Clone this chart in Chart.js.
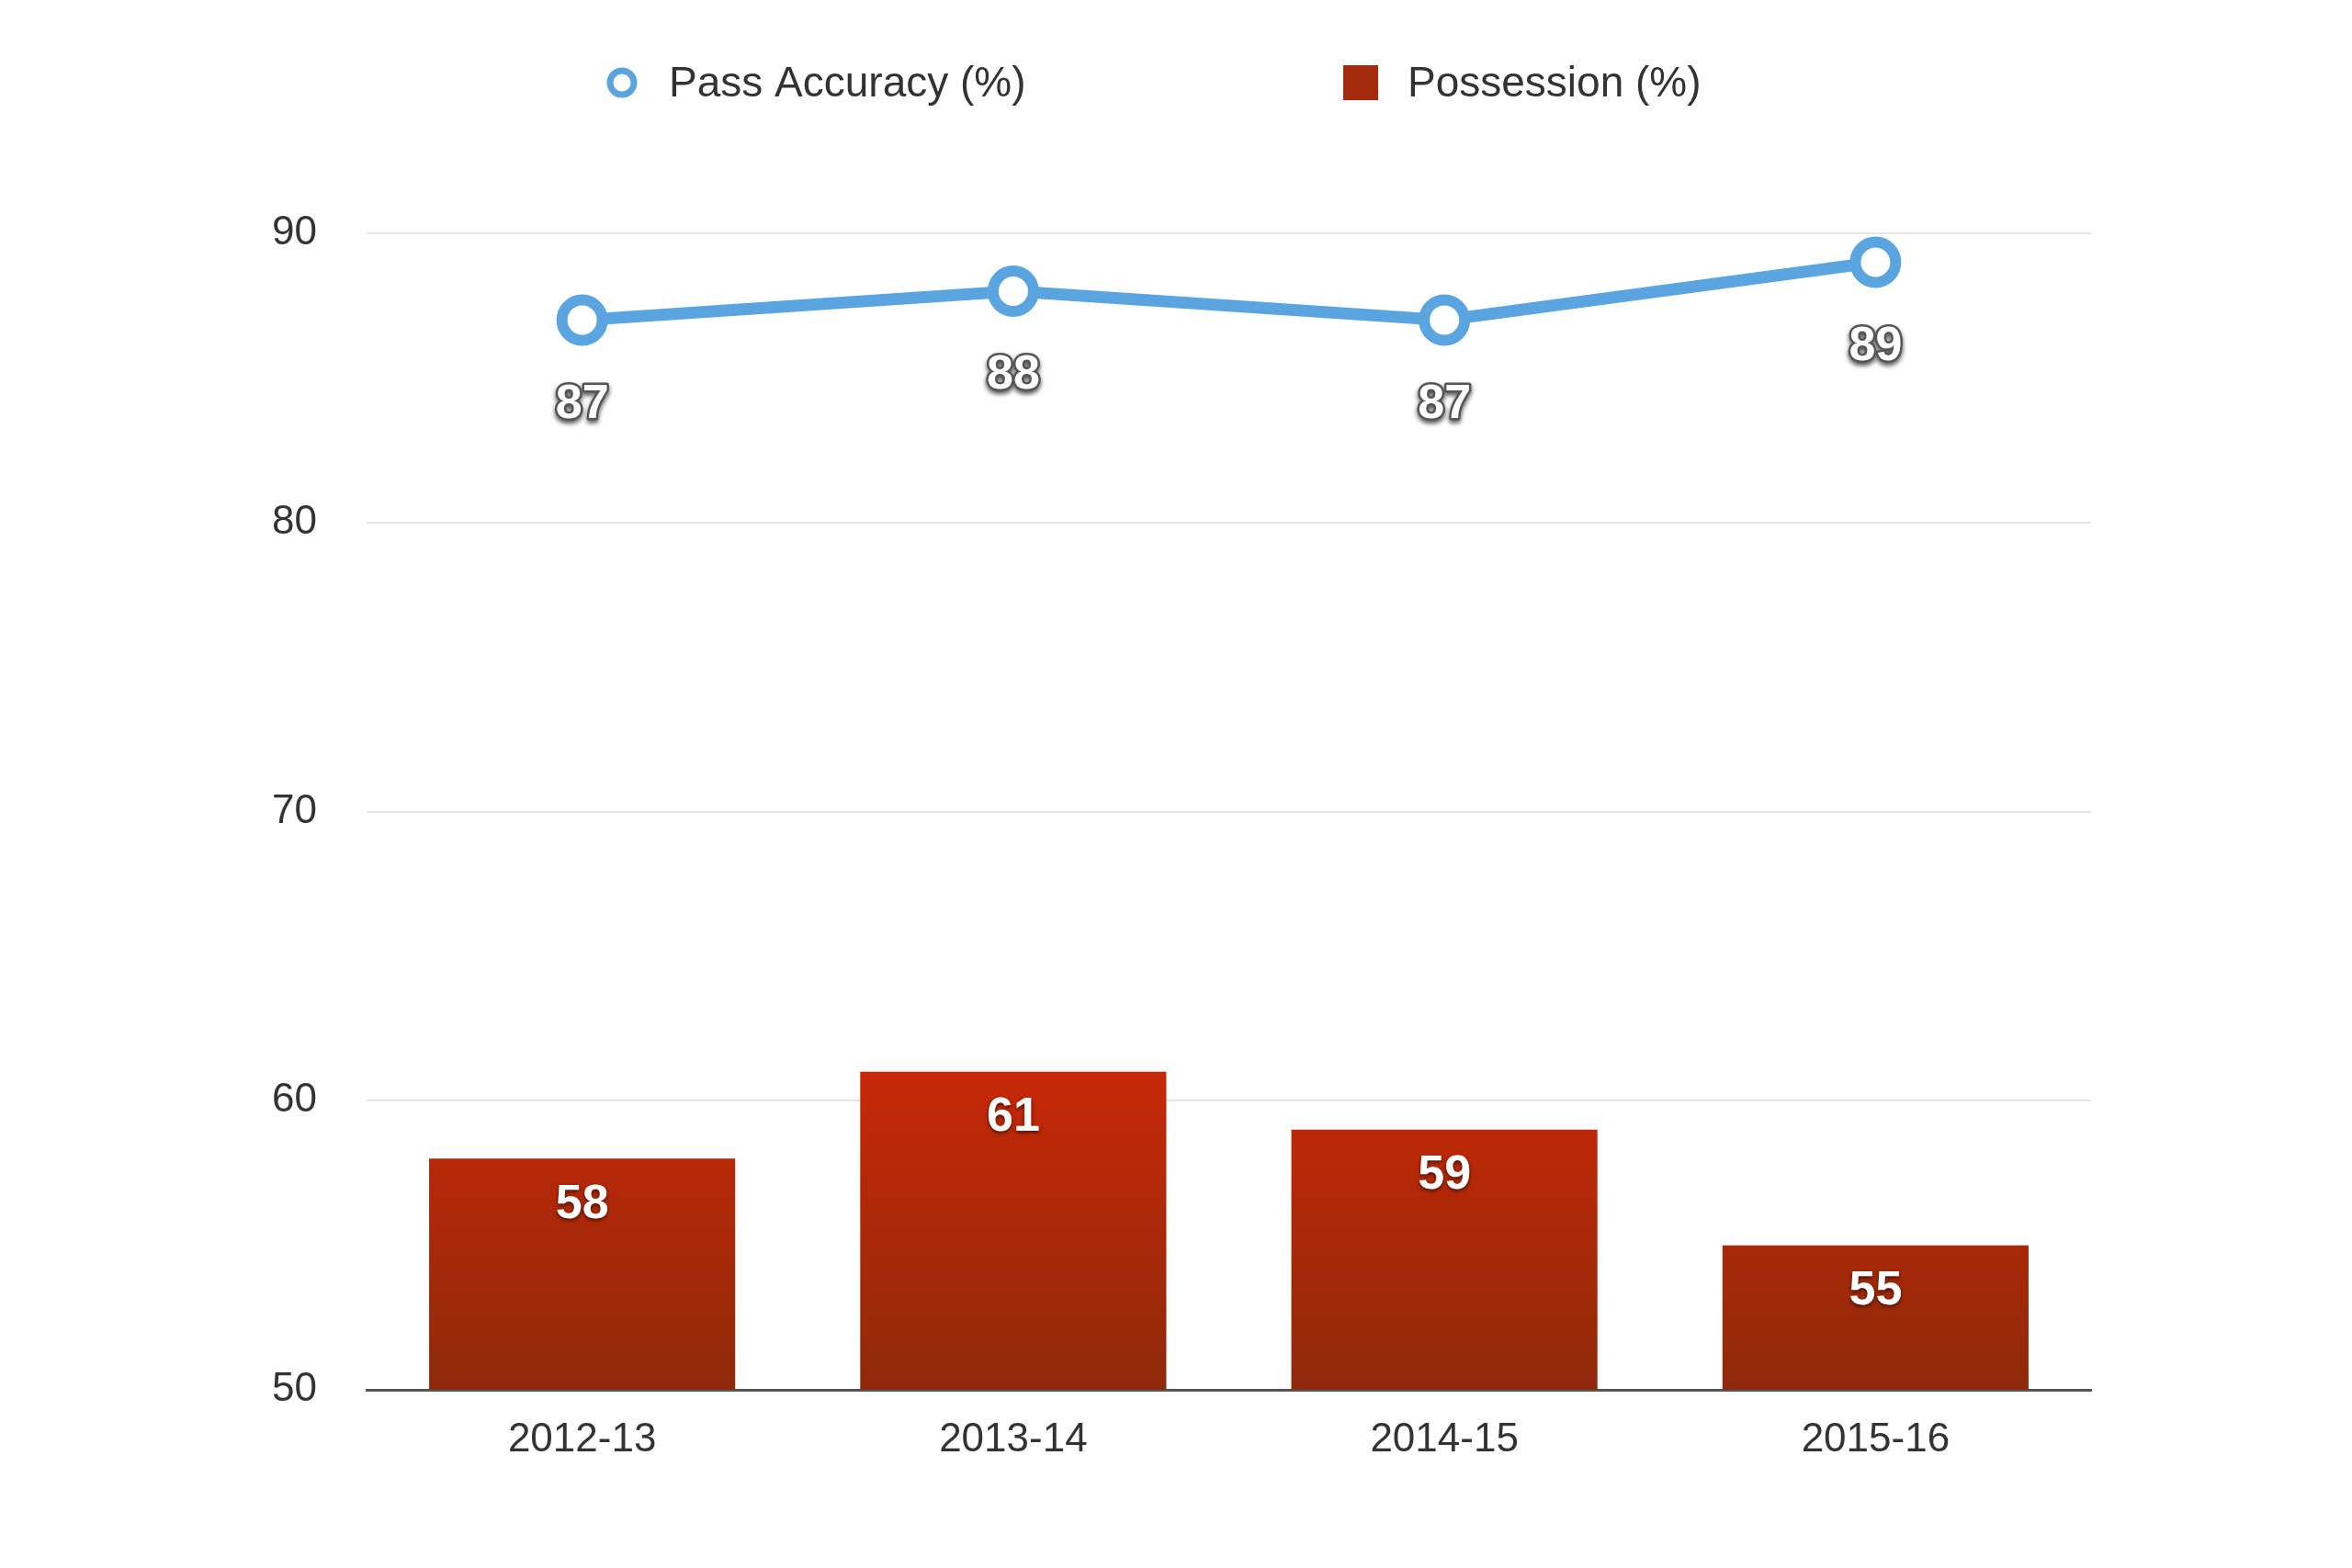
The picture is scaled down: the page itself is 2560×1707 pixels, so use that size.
<!DOCTYPE html>
<html>
<head>
<meta charset="utf-8">
<script src="https://cdn.jsdelivr.net/npm/chart.js@4/dist/chart.umd.min.js"></script>
<style>
  html, body { margin: 0; padding: 0; background: #fff; }
  #c { display: block; }
</style>
</head>
<body>
<canvas id="c" width="2560" height="1707"></canvas>
<script>
const seasons = ['2012-13', '2013-14', '2014-15', '2015-16'];
const passAccuracy = [87, 88, 87, 89];
const possession = [58, 61, 59, 55];
const yTicks = [50, 60, 70, 80, 90];

const FONT = "'Liberation Sans', Arial, sans-serif";

// 값 라벨 + 범례를 직접 그려주는 플러그인
const labelPlugin = {
    id: 'labels',
    afterDatasetsDraw(chart) {
        const ctx = chart.ctx;
        ctx.save();
        ctx.textAlign = 'center';
        ctx.textBaseline = 'middle';
        ctx.font = 'bold 52px ' + FONT;
        ctx.lineJoin = 'round';

        chart.getDatasetMeta(1).data.forEach((bar, i) => {
            ctx.shadowColor = 'rgba(0,0,0,0.6)';
            ctx.shadowBlur = 4; ctx.shadowOffsetY = 2;
            ctx.fillStyle = '#fff';
            ctx.fillText(possession[i], bar.x, bar.y + 50);
        });
        chart.getDatasetMeta(0).data.forEach((pt, i) => {
            ctx.shadowColor = 'rgba(0,0,0,0.7)';
            ctx.shadowBlur = 5; ctx.shadowOffsetY = 3;
            ctx.strokeStyle = '#555'; ctx.lineWidth = 5;
            ctx.strokeText(passAccuracy[i], pt.x, pt.y + 92);
            ctx.shadowColor = 'transparent';
            ctx.fillStyle = '#fff';
            ctx.fillText(passAccuracy[i], pt.x, pt.y + 92);
        });
        ctx.restore();

        // 범례
        ctx.save();
        ctx.font = '46px ' + FONT;
        ctx.textBaseline = 'middle';
        ctx.fillStyle = '#333';
        ctx.beginPath();
        ctx.arc(677, 90, 13, 0, Math.PI * 2);
        ctx.strokeStyle = '#5aa5e0'; ctx.lineWidth = 7; ctx.stroke();
        ctx.fillText('Pass Accuracy (%)', 728, 92);
        ctx.fillStyle = '#a52a0c';
        ctx.fillRect(1462, 71, 38, 38);
        ctx.fillStyle = '#333';
        ctx.fillText('Possession (%)', 1532, 92);
        ctx.restore();
    }
};

const ctx = document.getElementById('c').getContext('2d');
const grad = ctx.createLinearGradient(0, 1160, 0, 1513);
grad.addColorStop(0, '#c82808');
grad.addColorStop(1, '#8e2a0a');

new Chart(ctx, {
    data: {
        labels: seasons,
        datasets: [{
            type: 'line',
            label: 'Pass Accuracy (%)',
            data: passAccuracy,
            borderColor: '#5aa5e0',
            borderWidth: 13,
            pointRadius: 22,
            pointBorderWidth: 12,
            pointBackgroundColor: '#fff',
            pointBorderColor: '#5aa5e0',
            tension: 0,
            order: 0
        }, {
            type: 'bar',
            label: 'Possession (%)',
            data: possession,
            backgroundColor: grad,
            barPercentage: 0.71,
            categoryPercentage: 1,
            order: 1
        }]
    },
    options: {
        responsive: false,
        animation: false,
        devicePixelRatio: 1,
        layout: { padding: { top: 254, right: 284, left: 0, bottom: 0 } },
        plugins: { legend: { display: false }, tooltip: { enabled: false } },
        scales: {
            x: {
                grid: { display: false },
                border: { color: '#555', width: 3 },
                ticks: { color: '#333', font: { size: 44, family: FONT }, padding: 20 },
                afterFit: s => { s.height = 194; }
            },
            y: {
                min: 50, max: 90,
                afterBuildTicks: s => { s.ticks = yTicks.map(v => ({ value: v })); },
                grid: { color: '#e6e6e6', lineWidth: 2, drawTicks: false },
                border: { display: false },
                ticks: { color: '#333', font: { size: 44, family: FONT }, padding: 54 },
                afterFit: s => { s.width = 399; }
            }
        }
    },
    plugins: [labelPlugin]
});
</script>
</body>
</html>
